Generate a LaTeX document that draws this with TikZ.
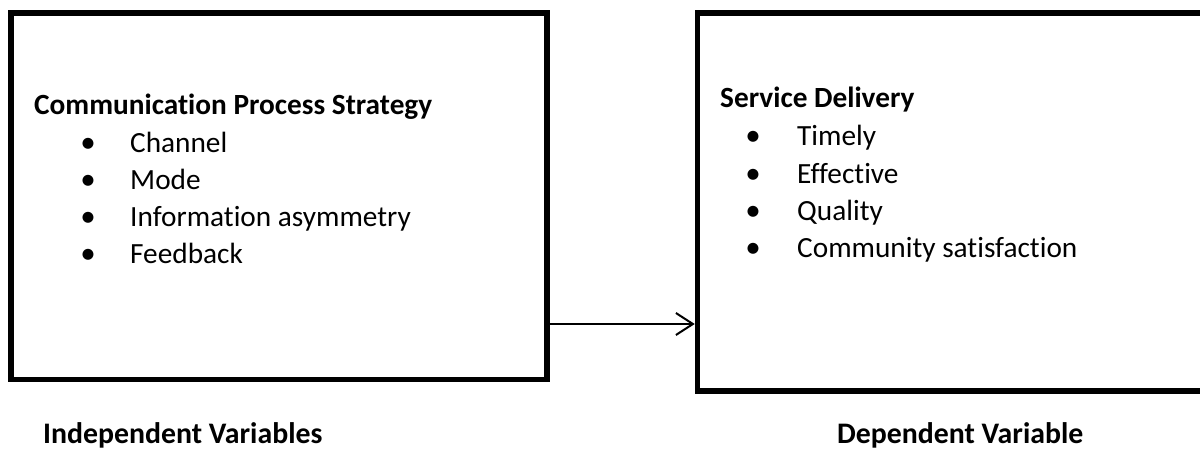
\documentclass[tikz,border=0pt]{standalone}
\usepackage{fontspec}
\setmainfont{Carlito}[Ligatures=NoCommon]
\usetikzlibrary{arrows.meta}
\begin{document}
\begin{tikzpicture}[x=1pt,y=-1pt,
  box/.style={draw, line width=5.5pt, rectangle, inner sep=0pt},
  ttl/.style={anchor=base west, inner sep=0pt, font=\fontsize{29.3}{33}\selectfont\bfseries},
  itm/.style={anchor=base west, inner sep=0pt, font=\fontsize{29.3}{33}\selectfont},
  bul/.style={anchor=base, inner sep=0pt, font=\fontsize{31}{33}\selectfont},
  lbl/.style={anchor=base west, inner sep=0pt, font=\fontsize{29.8}{33}\selectfont\bfseries},
  arr/.style={-{Straight Barb[length=17pt,width=22pt,line width=2pt]}, line width=1.6pt}]
\useasboundingbox (0,0) rectangle (1200,452);
\node[box, minimum width=536pt, minimum height=366.5pt] (A) at (279,196.25) {};
\node[box, minimum width=515pt, minimum height=378pt] (B) at (955,202) {};
\coordinate (ay) at (0,324);
\draw[arr] (A.east |- ay) -- (B.west |- ay);
% left box text
\node[ttl] (t1) at (34,114) {Communication Process Strategy};
\node[bul] (b11) at (88,152) {•};
\node[itm] (i11) at (130,152) {Channel};
\node[bul] (b12) at (88,189) {•};
\node[itm] (i12) at (130,189) {Mode};
\node[bul] (b13) at (88,226) {•};
\node[itm] (i13) at (130,226) {Information asymmetry};
\node[bul] (b14) at (88,263) {•};
\node[itm] (i14) at (130,263) {Feedback};
% right box text
\node[ttl] (t2) at (720,107) {Service Delivery};
\node[bul] (b21) at (753,145) {•};
\node[itm] (i21) at (797,145) {Timely};
\node[bul] (b22) at (753,183) {•};
\node[itm] (i22) at (797,183) {Effective};
\node[bul] (b23) at (753,220) {•};
\node[itm] (i23) at (797,220) {Quality};
\node[bul] (b24) at (753,257) {•};
\node[itm] (i24) at (797,257) {Community satisfaction};
% bottom labels
\node[lbl] (l1) at (43,443) {Independent Variables};
\node[lbl] (l2) at (837,443) {Dependent Variable};
\end{tikzpicture}
\end{document}
